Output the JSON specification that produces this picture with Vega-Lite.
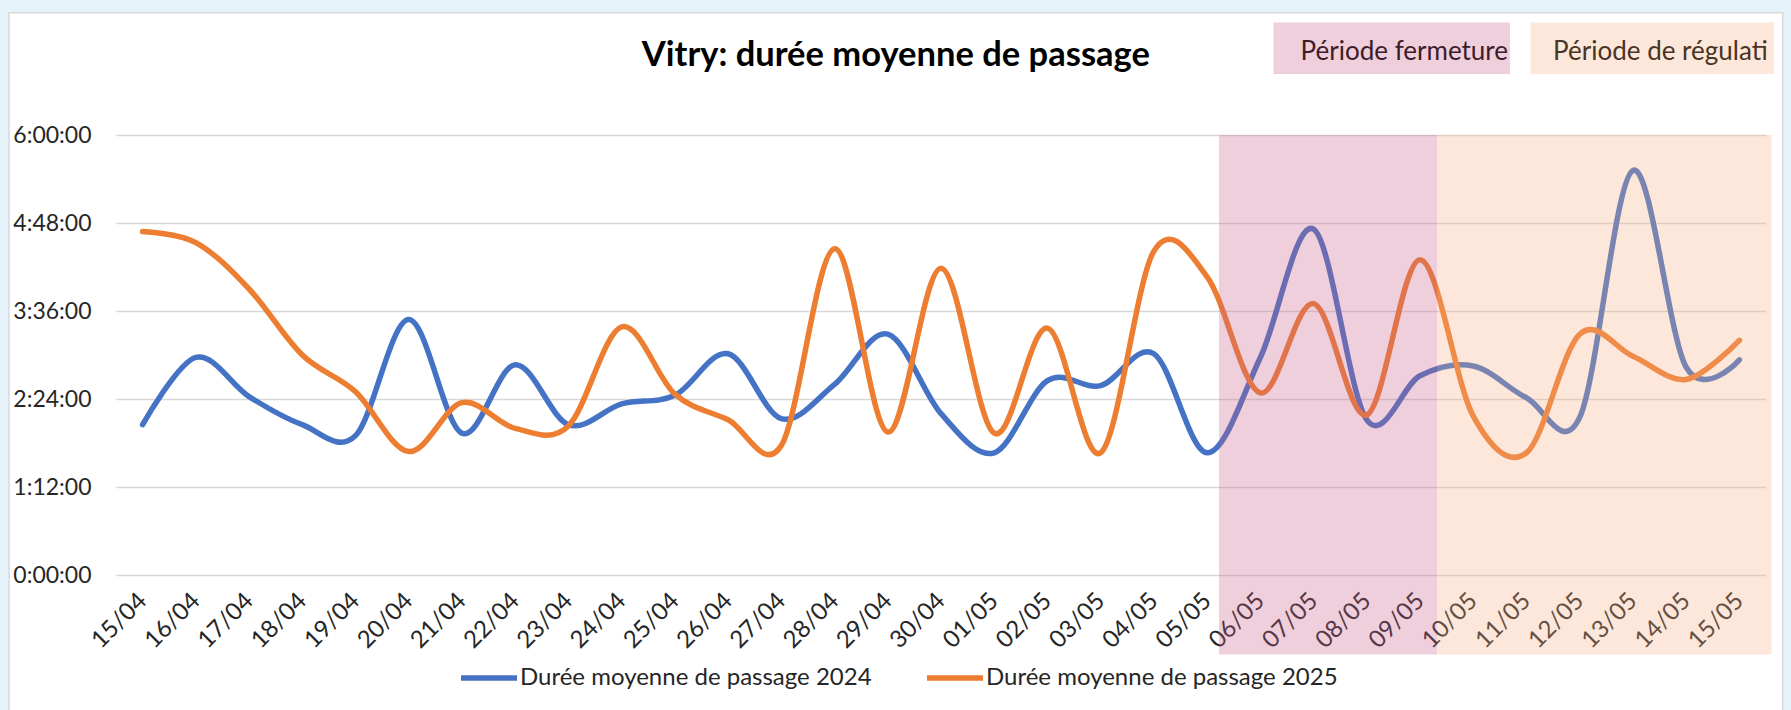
{
  "$schema": "https://vega.github.io/schema/vega-lite/v6.json",
  "width": 1650,
  "height": 440,
  "autosize": {"type": "none"},
  "padding": {"left": 116, "top": 135, "right": 25, "bottom": 135},
  "background": "#FFFFFF",
  "config": {"view": {"stroke": null}, "font": "Lato"},
  "title": {"text": "Vitry: durée moyenne de passage", "font": "Lato", "fontSize": 34.5, "fontWeight": "bold", "color": "#000000", "anchor": "middle", "frame": "bounds", "baseline": "alphabetic", "offset": -102},
  "datasets": {
    "passage": [
      {"date": "2025-04-15", "serie": "2024", "minutes": 123}, {"date": "2025-04-15", "serie": "2025", "minutes": 281},
      {"date": "2025-04-16", "serie": "2024", "minutes": 178}, {"date": "2025-04-16", "serie": "2025", "minutes": 272},
      {"date": "2025-04-17", "serie": "2024", "minutes": 146}, {"date": "2025-04-17", "serie": "2025", "minutes": 234},
      {"date": "2025-04-18", "serie": "2024", "minutes": 123}, {"date": "2025-04-18", "serie": "2025", "minutes": 180},
      {"date": "2025-04-19", "serie": "2024", "minutes": 114}, {"date": "2025-04-19", "serie": "2025", "minutes": 150},
      {"date": "2025-04-20", "serie": "2024", "minutes": 209}, {"date": "2025-04-20", "serie": "2025", "minutes": 101},
      {"date": "2025-04-21", "serie": "2024", "minutes": 116}, {"date": "2025-04-21", "serie": "2025", "minutes": 141},
      {"date": "2025-04-22", "serie": "2024", "minutes": 172}, {"date": "2025-04-22", "serie": "2025", "minutes": 120},
      {"date": "2025-04-23", "serie": "2024", "minutes": 123}, {"date": "2025-04-23", "serie": "2025", "minutes": 122},
      {"date": "2025-04-24", "serie": "2024", "minutes": 140}, {"date": "2025-04-24", "serie": "2025", "minutes": 203},
      {"date": "2025-04-25", "serie": "2024", "minutes": 147}, {"date": "2025-04-25", "serie": "2025", "minutes": 148},
      {"date": "2025-04-26", "serie": "2024", "minutes": 181}, {"date": "2025-04-26", "serie": "2025", "minutes": 127},
      {"date": "2025-04-27", "serie": "2024", "minutes": 128}, {"date": "2025-04-27", "serie": "2025", "minutes": 106},
      {"date": "2025-04-28", "serie": "2024", "minutes": 156}, {"date": "2025-04-28", "serie": "2025", "minutes": 267},
      {"date": "2025-04-29", "serie": "2024", "minutes": 197}, {"date": "2025-04-29", "serie": "2025", "minutes": 117},
      {"date": "2025-04-30", "serie": "2024", "minutes": 132}, {"date": "2025-04-30", "serie": "2025", "minutes": 251},
      {"date": "2025-05-01", "serie": "2024", "minutes": 100}, {"date": "2025-05-01", "serie": "2025", "minutes": 116},
      {"date": "2025-05-02", "serie": "2024", "minutes": 159}, {"date": "2025-05-02", "serie": "2025", "minutes": 202},
      {"date": "2025-05-03", "serie": "2024", "minutes": 155}, {"date": "2025-05-03", "serie": "2025", "minutes": 100},
      {"date": "2025-05-04", "serie": "2024", "minutes": 181}, {"date": "2025-05-04", "serie": "2025", "minutes": 265},
      {"date": "2025-05-05", "serie": "2024", "minutes": 100}, {"date": "2025-05-05", "serie": "2025", "minutes": 244},
      {"date": "2025-05-06", "serie": "2024", "minutes": 178}, {"date": "2025-05-06", "serie": "2025", "minutes": 149},
      {"date": "2025-05-07", "serie": "2024", "minutes": 283}, {"date": "2025-05-07", "serie": "2025", "minutes": 222},
      {"date": "2025-05-08", "serie": "2024", "minutes": 127}, {"date": "2025-05-08", "serie": "2025", "minutes": 131},
      {"date": "2025-05-09", "serie": "2024", "minutes": 163}, {"date": "2025-05-09", "serie": "2025", "minutes": 258},
      {"date": "2025-05-10", "serie": "2024", "minutes": 171}, {"date": "2025-05-10", "serie": "2025", "minutes": 130},
      {"date": "2025-05-11", "serie": "2024", "minutes": 145}, {"date": "2025-05-11", "serie": "2025", "minutes": 100},
      {"date": "2025-05-12", "serie": "2024", "minutes": 129}, {"date": "2025-05-12", "serie": "2025", "minutes": 197},
      {"date": "2025-05-13", "serie": "2024", "minutes": 331}, {"date": "2025-05-13", "serie": "2025", "minutes": 179},
      {"date": "2025-05-14", "serie": "2024", "minutes": 170}, {"date": "2025-05-14", "serie": "2025", "minutes": 160},
      {"date": "2025-05-15", "serie": "2024", "minutes": 176}, {"date": "2025-05-15", "serie": "2025", "minutes": 192}
    ],
    "periodes": [
      {"periode": "Période fermeture", "debut": "2025-05-05T05:21:00Z", "fin": "2025-05-09T07:40:00Z"},
      {"periode": "Période de régulation", "debut": "2025-05-09T07:40:00Z", "fin": "2025-05-15T14:36:00Z"}
    ]
  },
  "layer": [
    {
      "data": {"values": [{}]},
      "layer": [
        {
          "mark": {"type": "rect", "fillOpacity": 0, "stroke": "#E6F2FA", "strokeWidth": 14},
          "encoding": {
            "x": {"datum": {"year": 2025, "month": 4, "date": 12, "hours": 8, "minutes": 36, "utc": true}, "type": "temporal"},
            "x2": {"datum": {"year": 2025, "month": 5, "date": 15, "hours": 22, "minutes": 41, "utc": true}},
            "y": {"datum": 465.8, "type": "quantitative"},
            "y2": {"datum": -220}
          }
        },
        {
          "mark": {"type": "rect", "fillOpacity": 0, "stroke": "#D9D9D9", "strokeWidth": 1.5},
          "encoding": {
            "x": {"datum": {"year": 2025, "month": 4, "date": 12, "hours": 11, "minutes": 45, "utc": true}, "type": "temporal"},
            "x2": {"datum": {"year": 2025, "month": 5, "date": 15, "hours": 19, "minutes": 32, "utc": true}},
            "y": {"datum": 460.1, "type": "quantitative"},
            "y2": {"datum": -220}
          }
        }
      ]
    },
    {
      "data": {"name": "passage"},
      "mark": {"type": "line", "interpolate": "cardinal", "tension": 0, "strokeWidth": 5.5, "strokeCap": "round", "strokeJoin": "round"},
      "encoding": {
        "x": {
          "field": "date", "type": "temporal",
          "scale": {"type": "utc", "domain": [{"year": 2025, "month": 4, "date": 14, "hours": 12, "utc": true}, {"year": 2025, "month": 5, "date": 15, "hours": 12, "utc": true}]},
          "axis": {"title": null, "format": "%d/%m", "tickCount": {"interval": "day", "step": 1}, "labelAngle": -45, "labelAlign": "right", "labelBaseline": "middle", "labelPadding": 22, "labelOverlap": false, "labelFontSize": 24, "labelColor": "#262626", "ticks": false, "domain": false, "grid": false, "labelBound": false, "labelFlush": false}
        },
        "y": {
          "field": "minutes", "type": "quantitative",
          "scale": {"domain": [0, 360], "nice": false, "zero": true},
          "axis": {"title": null, "values": [0, 72, 144, 216, 288, 360], "labelExpr": "floor(datum.value / 60) + ':' + (datum.value % 60 < 10 ? '0' : '') + (datum.value % 60) + ':00'", "grid": true, "gridColor": "#D9D9D9", "gridWidth": 1.3, "ticks": false, "domain": false, "labelFontSize": 23, "labelColor": "#262626", "labelPadding": 25}
        },
        "color": {
          "field": "serie", "type": "nominal",
          "scale": {"domain": ["2024", "2025"], "range": ["#4472C4", "#ED7D31"]},
          "legend": {"title": null, "orient": "none", "legendX": 342, "legendY": 512, "direction": "horizontal", "symbolType": "stroke", "symbolSize": 3136, "symbolStrokeWidth": 5.5, "labelFontSize": 24, "labelColor": "#262626", "labelOffset": 0, "labelLimit": 600, "columnPadding": 44, "labelExpr": "'Durée moyenne de passage ' + datum.label"}
        }
      }
    },
    {
      "data": {"name": "periodes"},
      "mark": {"type": "rect", "fillOpacity": 0.3},
      "encoding": {
        "x": {"field": "debut", "type": "temporal"},
        "x2": {"field": "fin"},
        "y": {"datum": 360, "type": "quantitative"},
        "y2": {"datum": -65},
        "fill": {"field": "periode", "type": "nominal", "scale": {"domain": ["Période fermeture", "Période de régulation"], "range": ["#CA5F8A", "#F4B183"]}, "legend": null}
      }
    },
    {
      "data": {"name": "periodes"},
      "transform": [{"filter": "datum.periode === 'Période fermeture'"}],
      "layer": [
        {
          "mark": {"type": "rect", "fillOpacity": 0.3},
          "encoding": {
            "x": {"datum": {"year": 2025, "month": 5, "date": 6, "hours": 5, "minutes": 56, "utc": true}, "type": "temporal"},
            "x2": {"datum": {"year": 2025, "month": 5, "date": 10, "hours": 16, "minutes": 35, "utc": true}},
            "y": {"datum": 452, "type": "quantitative"},
            "y2": {"datum": 410},
            "fill": {"field": "periode", "type": "nominal", "legend": null}
          }
        },
        {
          "mark": {"type": "text", "align": "left", "baseline": "alphabetic", "fontSize": 26, "font": "Lato", "color": "#3D1C29"},
          "encoding": {
            "x": {"datum": {"year": 2025, "month": 5, "date": 6, "hours": 18, "minutes": 9, "utc": true}, "type": "temporal"},
            "y": {"datum": 421.6, "type": "quantitative"},
            "text": {"field": "periode"}
          }
        }
      ]
    },
    {
      "data": {"name": "periodes"},
      "transform": [{"filter": "datum.periode === 'Période de régulation'"}],
      "layer": [
        {
          "mark": {"type": "rect", "fillOpacity": 0.3},
          "encoding": {
            "x": {"datum": {"year": 2025, "month": 5, "date": 11, "hours": 1, "minutes": 49, "utc": true}, "type": "temporal"},
            "x2": {"datum": {"year": 2025, "month": 5, "date": 15, "hours": 15, "minutes": 37, "utc": true}},
            "y": {"datum": 452, "type": "quantitative"},
            "y2": {"datum": 410},
            "fill": {"field": "periode", "type": "nominal", "legend": null}
          }
        },
        {
          "mark": {"type": "text", "align": "left", "baseline": "alphabetic", "fontSize": 26, "font": "Lato", "color": "#493425", "limit": 232, "ellipsis": " "},
          "encoding": {
            "x": {"datum": {"year": 2025, "month": 5, "date": 11, "hours": 12, "minutes": 0, "utc": true}, "type": "temporal"},
            "y": {"datum": 421.6, "type": "quantitative"},
            "text": {"field": "periode"}
          }
        }
      ]
    }
  ]
}
